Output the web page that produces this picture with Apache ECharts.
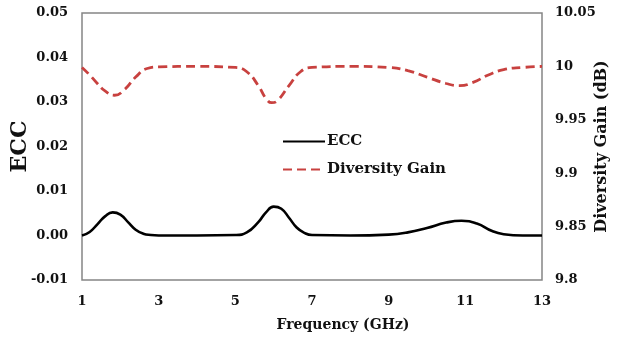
<!DOCTYPE html>
<html>
<head>
<meta charset="utf-8">
<script src="https://cdn.jsdelivr.net/npm/echarts@6/dist/echarts.min.js"></script>
<style>
  html, body { margin: 0; padding: 0; background: #fff; }
  #chart { width: 619px; height: 337px; }
</style>
</head>
<body>
<div id="chart"></div>
<script>
// Envelope correlation coefficient (left axis) vs frequency
const eccFreq = [1.0, 1.2, 1.4, 1.6, 1.8, 2.0, 2.2, 2.4, 2.6, 2.8, 3.0, 4.0, 5.0, 5.3, 5.6, 5.8, 6.0, 6.2, 6.4, 6.6, 6.8, 7.0, 8.0, 9.0, 9.5, 10.0, 10.5, 10.9, 11.3, 11.7, 12.0, 12.5, 13.0];
const eccValues = [0.0000, 0.0008, 0.0025, 0.0043, 0.0052, 0.0047, 0.0030, 0.0013, 0.0004, 0.0001, 0.0000, 0.0000, 0.0001, 0.0007, 0.0030, 0.0052, 0.0065, 0.0060, 0.0040, 0.0018, 0.0006, 0.0001, 0.0000, 0.0002, 0.0007, 0.0017, 0.0029, 0.0033, 0.0027, 0.0010, 0.0003, 0.0000, 0.0000];

// Diversity gain in dB (right axis) vs frequency
const dgFreq = [1.0, 1.2, 1.4, 1.6, 1.85, 2.1, 2.4, 2.7, 3.0, 4.0, 5.0, 5.3, 5.6, 5.8, 5.95, 6.1, 6.4, 6.7, 7.0, 8.0, 9.0, 9.5, 10.0, 10.5, 10.85, 11.2, 11.6, 12.0, 12.5, 13.0];
const dgValues = [9.999, 9.992, 9.984, 9.977, 9.973, 9.978, 9.990, 9.998, 9.9995, 10.000, 9.999, 9.995, 9.982, 9.970, 9.966, 9.968, 9.982, 9.995, 9.999, 10.000, 9.999, 9.996, 9.990, 9.984, 9.982, 9.985, 9.992, 9.997, 9.999, 10.000];

// Axis ranges and tick labels
const freqRange = [1, 13];
const freqTickLabels = ['1', '3', '5', '7', '9', '11', '13'];
const eccRange = [-0.01, 0.05];
const eccStep = 0.01;
const dgRange = [9.8, 10.05];
const dgStep = 0.05;

const pairs = (xs, ys) => xs.map((x, i) => [x, ys[i]]);

const tickFont = {
  fontFamily: 'DejaVu Serif',
  fontWeight: 'bold',
  fontSize: 13,
  color: '#111'
};

const chart = echarts.init(document.getElementById('chart'), null, { renderer: 'canvas' });

chart.setOption({
  animation: false,
  backgroundColor: '#fff',
  grid: {
    left: 82, right: 77, top: 13, bottom: 57,
    outerBoundsMode: 'none',
    containLabel: false,
    show: true,
    borderColor: '#858585',
    borderWidth: 1.5
  },
  legend: {
    orient: 'vertical',
    left: 277,
    top: 129,
    itemWidth: 42,
    itemHeight: 14,
    itemGap: 13,
    itemStyle: { opacity: 0 },
    textStyle: { fontFamily: 'DejaVu Serif', fontWeight: 'bold', fontSize: 15, color: '#111', padding: [0, 0, 0, -3] },
    data: ['ECC', 'Diversity Gain']
  },
  xAxis: {
    type: 'value',
    min: freqRange[0],
    max: freqRange[1],
    interval: 1,
    name: 'Frequency (GHz)',
    nameLocation: 'middle',
    nameGap: 38,
    nameMoveOverlap: false,
    nameTextStyle: { fontFamily: 'DejaVu Serif', fontWeight: 'bold', fontSize: 14, color: '#111', padding: [0, 0, 0, 62] },
    axisLine: { show: false },
    axisTick: { show: false },
    splitLine: { show: false },
    axisLabel: Object.assign({}, tickFont, {
      margin: 15,
      formatter: v => (freqTickLabels.includes(String(Math.round(v))) ? String(Math.round(v)) : '')
    })
  },
  yAxis: [
    {
      type: 'value',
      min: eccRange[0],
      max: eccRange[1],
      interval: eccStep,
      name: 'ECC',
      nameLocation: 'middle',
      nameGap: 51,
      nameRotate: 90,
      nameMoveOverlap: false,
      nameTextStyle: { fontFamily: 'DejaVu Serif', fontWeight: 'bold', fontSize: 22, color: '#111' },
      axisLine: { show: false },
      axisTick: { show: false },
      splitLine: { show: false },
      axisLabel: Object.assign({}, tickFont, {
        margin: 14,
        formatter: v => (Math.abs(v) < 1e-9 ? 0 : v).toFixed(2)
      })
    },
    {
      type: 'value',
      min: dgRange[0],
      max: dgRange[1],
      interval: dgStep,
      name: 'Diversity Gain (dB)',
      nameLocation: 'middle',
      nameGap: 52,
      nameRotate: 90,
      nameMoveOverlap: false,
      nameTextStyle: { fontFamily: 'DejaVu Serif', fontWeight: 'bold', fontSize: 16, color: '#111' },
      axisLine: { show: false },
      axisTick: { show: false },
      splitLine: { show: false },
      axisLabel: Object.assign({}, tickFont, {
        margin: 13,
        formatter: v => String(parseFloat(v.toFixed(2)))
      })
    }
  ],
  series: [
    {
      name: 'ECC',
      type: 'line',
      yAxisIndex: 0,
      smooth: 0.5,
      symbol: 'none',
      data: pairs(eccFreq, eccValues),
      lineStyle: { color: '#000', width: 2.6 },
      itemStyle: { color: '#000' }
    },
    {
      name: 'Diversity Gain',
      type: 'line',
      yAxisIndex: 1,
      smooth: 0.5,
      symbol: 'none',
      data: pairs(dgFreq, dgValues),
      lineStyle: { color: '#c8413f', width: 2.8, type: [9, 5] },
      itemStyle: { color: '#c8413f' }
    }
  ]
});
</script>
</body>
</html>
